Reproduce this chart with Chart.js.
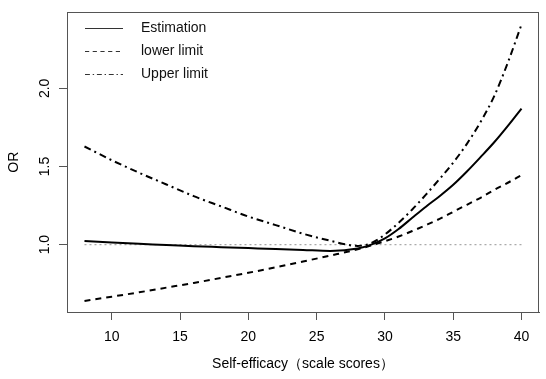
<!DOCTYPE html>
<html>
<head>
<meta charset="utf-8">
<script src="https://cdn.jsdelivr.net/npm/chart.js@4.4.1/dist/chart.umd.min.js"></script>
<style>
  body { margin: 0; background: #fff; }
  canvas { display: block; }
</style>
</head>
<body>
<canvas id="orChart" width="546" height="379"></canvas>
<script>
// self-efficacy scores (x) and odds ratios
const scores = [8, 10, 12, 14, 16, 18, 20, 22, 24, 26, 28, 29, 30, 31, 32, 33, 34, 35, 36, 37, 38, 39, 40];
const estimation = [1.023, 1.013, 1.005, 0.998, 0.990, 0.984, 0.978, 0.972, 0.966, 0.960, 0.975, 1.000, 1.040, 1.100, 1.172, 1.243, 1.310, 1.383, 1.468, 1.560, 1.655, 1.760, 1.871];
const lowerLimit = [0.640, 0.667, 0.695, 0.725, 0.755, 0.787, 0.820, 0.855, 0.892, 0.930, 0.970, 0.995, 1.022, 1.052, 1.087, 1.125, 1.165, 1.210, 1.255, 1.300, 1.350, 1.396, 1.445];
const upperLimit = [1.628, 1.540, 1.460, 1.385, 1.310, 1.245, 1.180, 1.125, 1.070, 1.025, 0.992, 1.010, 1.065, 1.140, 1.225, 1.320, 1.420, 1.525, 1.645, 1.785, 1.950, 2.165, 2.409];
const refLine = [1, 1];
const refX = [8, 40];

const xTicks = [10, 15, 20, 25, 30, 35, 40];
const yTicks = [1.0, 1.5, 2.0];
const seriesNames = ['Estimation', 'lower limit', 'Upper limit'];

const FONT = 'Liberation Sans, Arial, sans-serif';

function pts(xs, ys) {
    return xs.map((x, i) => ({ x: x, y: ys[i] }));
}

// box around the plot region, like R's box()
const boxPlugin = {
    id: 'box',
    afterDraw(chart) {
        const a = chart.chartArea;
        const c = chart.ctx;
        c.save();
        c.strokeStyle = '#555';
        c.lineWidth = 1;
        c.setLineDash([]);
        c.strokeRect(Math.round(a.left) + 0.5, Math.round(a.top) + 0.5,
            Math.round(a.right - a.left) - 1, Math.round(a.bottom - a.top));
        c.restore();
    }
};

// legend in the top-left corner, no frame
const legendPlugin = {
    id: 'rLegend',
    afterDraw(chart) {
        const c = chart.ctx;
        c.save();
        c.font = '14px ' + FONT;
        c.textBaseline = 'middle';
        c.fillStyle = '#111';
        seriesNames.forEach((name, i) => {
            const ds = chart.data.datasets[i];
            const y = 28.5 + i * 23;
            c.strokeStyle = '#333';
            c.lineWidth = 1.1;
            c.setLineDash(ds.borderDash ? ds.borderDash.map(d => d * 0.7) : []);
            c.beginPath();
            c.moveTo(85, y);
            c.lineTo(123, y);
            c.stroke();
            c.setLineDash([]);
            c.fillText(name, 141, y);
        });
        c.restore();
    }
};

const ctx = document.getElementById('orChart').getContext('2d');
const orChart = new Chart(ctx, {
    type: 'line',
    data: {
        datasets: [
            {
                label: seriesNames[0],
                data: pts(scores, estimation),
                borderColor: '#000',
                borderWidth: 2,
                cubicInterpolationMode: 'monotone'
            },
            {
                label: seriesNames[1],
                data: pts(scores, lowerLimit),
                borderColor: '#000',
                borderWidth: 2,
                borderDash: [6, 5],
                cubicInterpolationMode: 'monotone'
            },
            {
                label: seriesNames[2],
                data: pts(scores, upperLimit),
                borderColor: '#000',
                borderWidth: 2,
                borderDash: [7, 4, 2, 4],
                cubicInterpolationMode: 'monotone'
            },
            {
                label: 'ref',
                data: pts(refX, refLine),
                borderColor: '#aaa',
                borderWidth: 1.2,
                borderDash: [2, 3]
            }
        ]
    },
    options: {
        responsive: false,
        animation: false,
        events: [],
        layout: { padding: { top: 5, right: 7, left: 0, bottom: 0 } },
        elements: { point: { radius: 0 } },
        plugins: {
            legend: { display: false },
            tooltip: { enabled: false }
        },
        scales: {
            x: {
                type: 'linear',
                min: 6.72,
                max: 41.28,
                afterBuildTicks: s => { s.ticks = xTicks.map(v => ({ value: v })); },
                afterFit: s => { s.height = 67; },
                grid: { drawOnChartArea: false, tickLength: 8, color: '#555' },
                border: { color: '#555' },
                ticks: {
                    color: '#000',
                    font: { family: FONT, size: 14 },
                    padding: 9,
                    maxRotation: 0,
                    callback: v => String(v)
                },
                title: {
                    display: true,
                    text: 'Self-efficacy（scale scores）',
                    color: '#000',
                    font: { family: FONT, size: 14 },
                    padding: { top: 0, bottom: 6 }
                }
            },
            y: {
                type: 'linear',
                min: 0.569,
                max: 2.486,
                afterBuildTicks: s => { s.ticks = yTicks.map(v => ({ value: v })); },
                afterFit: s => { s.width = 67; },
                grid: { drawOnChartArea: false, tickLength: 8, color: '#555' },
                border: { color: '#555' },
                ticks: {
                    color: '#000',
                    font: { family: FONT, size: 14 },
                    padding: 4,
                    crossAlign: 'center',
                    minRotation: 90,
                    maxRotation: 90,
                    callback: v => v.toFixed(1)
                },
                title: {
                    display: true,
                    text: 'OR',
                    color: '#000',
                    font: { family: FONT, size: 14 },
                    padding: { top: 6, bottom: 0 }
                }
            }
        }
    },
    plugins: [boxPlugin, legendPlugin]
});
</script>
</body>
</html>
